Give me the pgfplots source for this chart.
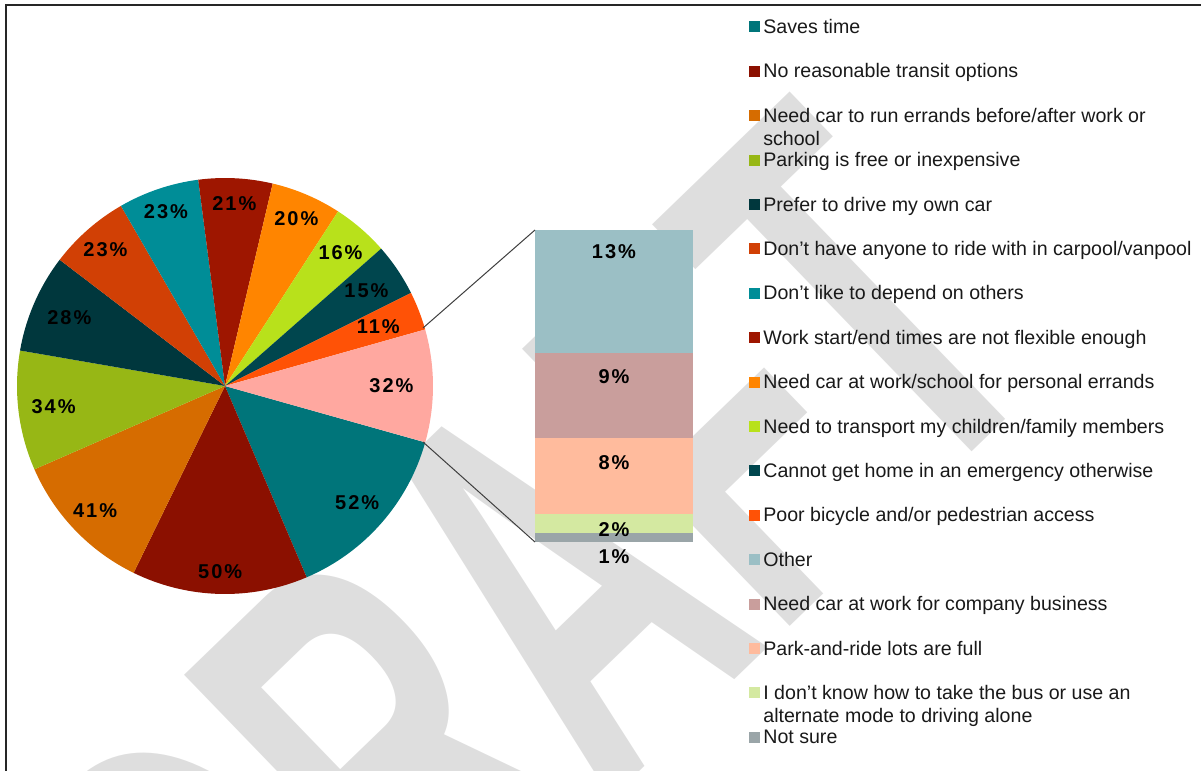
\documentclass[border=0pt]{standalone}
\usepackage{pgfplots}
\pgfplotsset{compat=1.18}
\usepackage{pgfplotstable}
\usepackage{fontspec}
\setmainfont{Liberation Sans}

\definecolor{cA}{HTML}{00757A}
\definecolor{cB}{HTML}{8B1000}
\definecolor{cC}{HTML}{D66C00}
\definecolor{cD}{HTML}{97B715}
\definecolor{cE}{HTML}{00373D}
\definecolor{cF}{HTML}{D14005}
\definecolor{cG}{HTML}{008D97}
\definecolor{cH}{HTML}{9E1600}
\definecolor{cI}{HTML}{FF8500}
\definecolor{cJ}{HTML}{B8E11B}
\definecolor{cK}{HTML}{00464E}
\definecolor{cL}{HTML}{FF5206}
\definecolor{cM}{HTML}{FFA8A0}
\definecolor{bO}{HTML}{9BBFC5}
\definecolor{bC}{HTML}{C99E9C}
\definecolor{bP}{HTML}{FFBB9D}
\definecolor{bD}{HTML}{D4E9A1}
\definecolor{bN}{HTML}{9AA5A8}
\definecolor{wm}{HTML}{DEDEDE}

\newcommand\pielabfont{\bfseries\fontsize{10}{12}\selectfont\addfontfeature{LetterSpace=10}}
\newcommand\LE[1]{\rule[-7.8pt]{0pt}{22.2pt}#1}
\newcommand\LEtwo[2]{\rule[-7.8pt]{0pt}{22.2pt}\rlap{\smash{\raisebox{-11.5pt}{#2}}}#1}

% main pie: value, colour, label radius (fraction of pie radius)
\pgfplotstableread[col sep=comma]{
v,c,lr
52,cA,0.846
50,cB,0.894
41,cC,0.865
34,cD,0.83
28,cE,0.817
23,cF,0.87
23,cG,0.885
21,cH,0.88
20,cI,0.875
16,cJ,0.85
15,cK,0.82
11,cL,0.79
32,cM,0.80
}\pietable

\begin{document}
\begin{tikzpicture}[x=0.5pt,y=-0.5pt]
\useasboundingbox (0,0) rectangle (1201,771);
\begin{scope}
\clip (0,0) rectangle (1201,771);
\node[rotate=44, xscale=0.58, anchor=base east, inner sep=0pt, text=wm,
      font=\bfseries\fontsize{280}{280}\selectfont] at (1060,366) {DRAFT};
\end{scope}

% ---------------- pie ----------------
\begin{axis}[at={(112.5pt,-193pt)}, anchor=origin,
  x=104pt, y=104pt, xmin=-1.05, xmax=1.05, ymin=-1.05, ymax=1.05,
  hide axis, clip=false,
  legend image code/.code={\fill[#1, draw=none] (0pt,-2.75pt) rectangle (5.5pt,2.75pt);},
  legend cell align=left,
  legend style={at={(axis cs:2.519,1.835)}, anchor=north west, draw=none, fill=none,
    inner sep=0pt, row sep=0pt, column sep=1.5pt,
    font=\fontsize{9.8}{11.5}\selectfont,
    nodes={inner sep=0pt, text=black!90, text height=14.4pt, text depth=7.8pt}},
]
\pgfmathsetmacro\pietot{0}
\pgfplotsforeachungrouped \i in {0,...,12}{%
  \pgfplotstablegetelem{\i}{v}\of\pietable
  \pgfmathsetmacro\pietot{\pietot+\pgfplotsretval}%
}
\pgfplotstablegetelem{12}{v}\of\pietable
\pgfmathsetmacro\pieA{-0.5*\pgfplotsretval/\pietot*360}
\pgfplotsforeachungrouped \i in {0,...,12}{%
  \pgfplotstablegetelem{\i}{v}\of\pietable \let\pieV\pgfplotsretval
  \pgfplotstablegetelem{\i}{c}\of\pietable \let\pieC\pgfplotsretval
  \pgfplotstablegetelem{\i}{lr}\of\pietable \let\pieR\pgfplotsretval
  \pgfmathsetmacro\pieB{\pieA-\pieV/\pietot*360}%
  \pgfmathsetmacro\pieM{(\pieA+\pieB)/2}%
  \edef\temp{%
    \noexpand\fill[\pieC] (axis cs:0,0) -- (axis cs:{cos(\pieA)},{sin(\pieA)})
      arc[start angle=\pieA, end angle=\pieB, radius=104pt] -- cycle;
    \noexpand\node[font=\noexpand\pielabfont, inner sep=0pt, text=black]
      at (axis cs:{\pieR*cos(\pieM)},{\pieR*sin(\pieM)}) {\pieV\noexpand\%};
  }\temp
  \let\pieA\pieB
}
\addlegendimage{fill=cA, draw=none}\addlegendentry{\LE{Saves time}}
\addlegendimage{fill=cB, draw=none}\addlegendentry{\LE{No reasonable transit options}}
\addlegendimage{fill=cC, draw=none}\addlegendentry{\LEtwo{Need car to run errands before/after work or}{school}}
\addlegendimage{fill=cD, draw=none}\addlegendentry{\LE{Parking is free or inexpensive}}
\addlegendimage{fill=cE, draw=none}\addlegendentry{\LE{Prefer to drive my own car}}
\addlegendimage{fill=cF, draw=none}\addlegendentry{\LE{Don't have anyone to ride with in carpool/vanpool}}
\addlegendimage{fill=cG, draw=none}\addlegendentry{\LE{Don't like to depend on others}}
\addlegendimage{fill=cH, draw=none}\addlegendentry{\LE{Work start/end times are not flexible enough}}
\addlegendimage{fill=cI, draw=none}\addlegendentry{\LE{Need car at work/school for personal errands}}
\addlegendimage{fill=cJ, draw=none}\addlegendentry{\LE{Need to transport my children/family members}}
\addlegendimage{fill=cK, draw=none}\addlegendentry{\LE{Cannot get home in an emergency otherwise}}
\addlegendimage{fill=cL, draw=none}\addlegendentry{\LE{Poor bicycle and/or pedestrian access}}
\addlegendimage{fill=bO, draw=none}\addlegendentry{\LE{Other}}
\addlegendimage{fill=bC, draw=none}\addlegendentry{\LE{Need car at work for company business}}
\addlegendimage{fill=bP, draw=none}\addlegendentry{\LE{Park-and-ride lots are full}}
\addlegendimage{fill=bD, draw=none}\addlegendentry{\LEtwo{I don't know how to take the bus or use an}{alternate mode to driving alone}}
\addlegendimage{fill=bN, draw=none}\addlegendentry{\LE{Not sure}}
\end{axis}

% ---------------- bar of "Other" ----------------
\begin{axis}[at={(307pt,-271pt)}, anchor=origin,
  x=50pt, y=4.7273pt, xmin=-1, xmax=1, ymin=0, ymax=33,
  hide axis, clip=false, ybar stacked, bar width=79pt,
  point meta=explicit,
  nodes near coords={\pgfmathprintnumber[assume math mode=true]{\pgfplotspointmeta}\%},
  every node near coord/.append style={font=\pielabfont, anchor=center, text=black},
]
\addplot[fill=bN, draw=none, every node near coord/.append style={yshift=-9.75pt}] coordinates {(0,1) [1]};
\addplot[fill=bD, draw=none, every node near coord/.append style={yshift=-3.25pt}] coordinates {(0,2) [2]};
\addplot[fill=bP, draw=none, every node near coord/.append style={yshift=6.5pt}] coordinates {(0,8) [8]};
\addplot[fill=bC, draw=none, every node near coord/.append style={yshift=9.25pt}] coordinates {(0,9) [9]};
\addplot[fill=bO, draw=none, every node near coord/.append style={yshift=19.75pt}] coordinates {(0,13) [13]};
\end{axis}

\draw[line width=0.5pt, black!75] (423,328) -- (535,230);
\draw[line width=0.5pt, black!75] (423,442) -- (535,542);
\draw[line width=1pt, black!85] (5,5) -- (1201,5);
\draw[line width=1pt, black!85] (6,5) -- (6,771);
\end{tikzpicture}
\end{document}
